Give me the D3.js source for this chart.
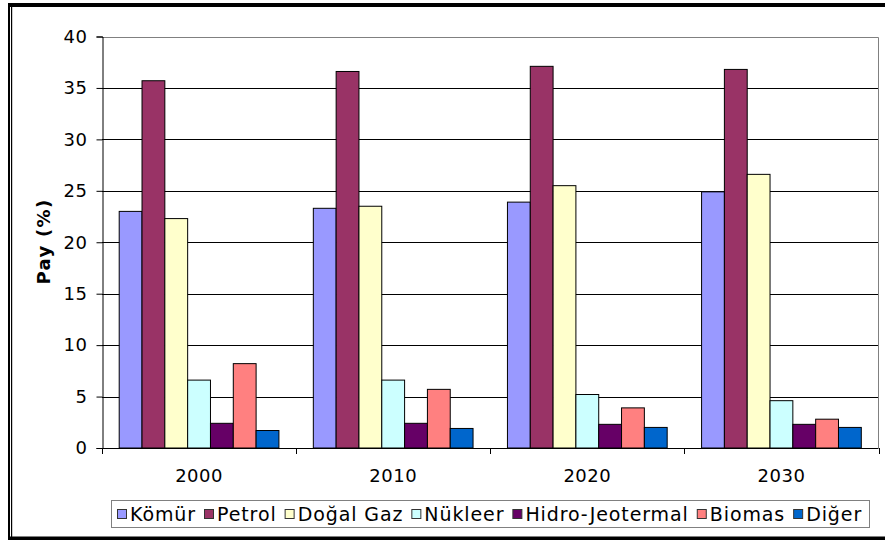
<!DOCTYPE html>
<html>
<head>
<meta charset="utf-8">
<script src="https://cdn.jsdelivr.net/npm/d3@7"></script>
<style>
  html, body { margin: 0; padding: 0; background: #fff; }
  text { font-family: "DejaVu Sans", Verdana, sans-serif; }
</style>
</head>
<body>
<div id="chart"></div>
<script>
var years = ["2000", "2010", "2020", "2030"];
var sources = ["Kömür", "Petrol", "Doğal Gaz", "Nükleer", "Hidro-Jeotermal", "Biomas", "Diğer"];
var colors = ["#9999FF", "#993366", "#FFFFCC", "#CCFFFF", "#660066", "#FF8080", "#0066CC"];
// one value per year for each source (Pay %)
var komur   = [23.0, 23.3, 23.9, 24.9];
var petrol  = [35.7, 36.6, 37.1, 36.8];
var dogalGaz = [22.3, 23.5, 25.5, 26.6];
var nukleer = [6.6, 6.6, 5.2, 4.6];
var hidro   = [2.4, 2.4, 2.3, 2.3];
var biomas  = [8.2, 5.7, 3.9, 2.8];
var diger   = [1.7, 1.9, 2.0, 2.0];
var yTicks = [0, 5, 10, 15, 20, 25, 30, 35, 40];

var series = [komur, petrol, dogalGaz, nukleer, hidro, biomas, diger];

var width = 885, height = 540,
    plotLeft = 102, plotRight = 878.5, plotTop = 36.5, plotBottom = 448;

var svg = d3.select("#chart").append("svg")
  .attr("width", width)
  .attr("height", height);

// outer frame
svg.append("rect").attr("x", 8).attr("y", 3).attr("width", width - 8).attr("height", 4).attr("fill", "#000");
svg.append("rect").attr("x", 8).attr("y", 3).attr("width", 2).attr("height", height - 3).attr("fill", "#000");
svg.append("rect").attr("x", 11).attr("y", 7).attr("width", 1.2).attr("height", 530).attr("fill", "#000");
svg.append("rect").attr("x", 8).attr("y", 536.5).attr("width", width - 8).attr("height", 4).attr("fill", "#000");

var x = d3.scaleBand()
  .domain(years)
  .range([plotLeft, plotRight]);

var xInner = d3.scaleBand()
  .domain(d3.range(sources.length))
  .range([17.2, x.bandwidth() - 17.2]);

var y = d3.scaleLinear()
  .domain([0, 40])
  .range([plotBottom, plotTop]);

// grid lines
svg.append("g")
  .selectAll("line")
  .data(yTicks.filter(function(d) { return d > 0 && d < 40; }))
  .enter().append("line")
  .attr("x1", plotLeft).attr("x2", plotRight)
  .attr("y1", function(d) { return Math.round(y(d)) + 0.5; })
  .attr("y2", function(d) { return Math.round(y(d)) + 0.5; })
  .attr("stroke", "#000")
  .attr("stroke-width", 1);

// plot border (top/right gray)
svg.append("path")
  .attr("d", "M" + plotLeft + "," + (Math.round(plotTop) + 0.5) + "H" + plotRight + "V" + plotBottom)
  .attr("fill", "none")
  .attr("stroke", "#808080")
  .attr("stroke-width", 1);

// bars
var groups = svg.append("g")
  .selectAll("g")
  .data(years)
  .enter().append("g")
  .attr("transform", function(d) { return "translate(" + x(d) + ",0)"; });

groups.selectAll("rect")
  .data(function(d, i) {
    return series.map(function(s, j) { return { idx: j, value: s[i] }; });
  })
  .enter().append("rect")
  .attr("x", function(d) { return xInner(d.idx); })
  .attr("width", xInner.bandwidth())
  .attr("y", function(d) { return y(d.value); })
  .attr("height", function(d) { return y(0) - y(d.value); })
  .attr("fill", function(d) { return colors[d.idx]; })
  .attr("stroke", "#000")
  .attr("stroke-width", 1);

// y axis
var yAxis = svg.append("g")
  .attr("transform", "translate(" + (plotLeft + 0.5) + ",0)")
  .call(d3.axisLeft(y).tickValues(yTicks).tickSize(6).tickPadding(9));
yAxis.select(".domain").attr("stroke", "#000");
yAxis.selectAll("line").attr("stroke", "#000");
yAxis.selectAll("text")
  .attr("font-size", "18px")
  .attr("letter-spacing", "0.5px")
  .attr("fill", "#000")
  .attr("font-family", "DejaVu Sans, Verdana, sans-serif");

// x axis: ticks at category boundaries
svg.append("line")
  .attr("x1", plotLeft).attr("x2", plotRight)
  .attr("y1", plotBottom + 0.5).attr("y2", plotBottom + 0.5)
  .attr("stroke", "#000");
svg.append("g")
  .selectAll("line")
  .data(years.concat(["end"]))
  .enter().append("line")
  .attr("x1", function(d, i) { return Math.round(plotLeft + i * x.bandwidth()) + 0.5; })
  .attr("x2", function(d, i) { return Math.round(plotLeft + i * x.bandwidth()) + 0.5; })
  .attr("y1", plotBottom)
  .attr("y2", plotBottom + 6)
  .attr("stroke", "#000");
svg.append("g")
  .selectAll("text")
  .data(years)
  .enter().append("text")
  .attr("x", function(d) { return x(d) + x.bandwidth() / 2; })
  .attr("y", 482)
  .attr("text-anchor", "middle")
  .attr("font-size", "18px")
  .attr("letter-spacing", "0.5px")
  .text(function(d) { return d; });

// y label
svg.append("text")
  .attr("transform", "translate(50,241.5) rotate(-90)")
  .attr("text-anchor", "middle")
  .attr("font-size", "18px")
  .attr("font-weight", "bold")
  .attr("letter-spacing", "1.3px")
  .text("Pay (%)");

// legend
var legend = svg.append("g");
legend.append("rect")
  .attr("x", 111.5).attr("y", 500.5)
  .attr("width", 758).attr("height", 27)
  .attr("fill", "#fff")
  .attr("stroke", "#808080");

var lx = 117;
sources.forEach(function(name, i) {
  legend.append("rect")
    .attr("x", lx + 0.5).attr("y", 509.5)
    .attr("width", 9).attr("height", 9)
    .attr("fill", colors[i])
    .attr("stroke", "#333");
  var t = legend.append("text")
    .attr("x", lx + 13)
    .attr("y", 520.5)
    .attr("font-size", "19px")
    .attr("letter-spacing", "0.9px")
    .text(name);
  lx += 13 + t.node().getComputedTextLength() + 8;
});
</script>
</body>
</html>
